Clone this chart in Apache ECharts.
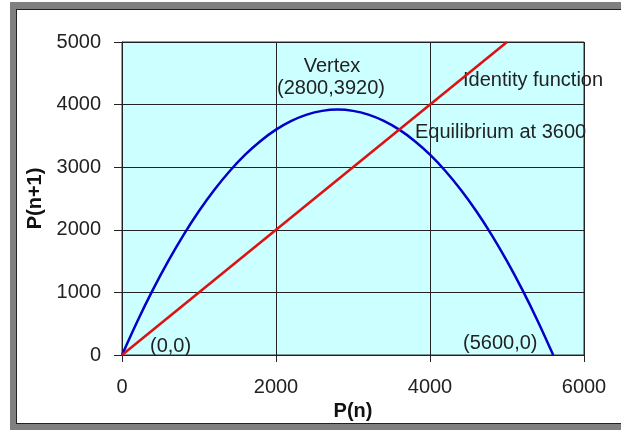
<!DOCTYPE html>
<html><head><meta charset="utf-8">
<script src="https://cdn.jsdelivr.net/npm/echarts@6/dist/echarts.min.js"></script>
<style>html,body{margin:0;padding:0;background:#fff}#c{width:621px;height:430px}</style>
</head><body><div id="c"></div>
<script>
// P(n) values and P(n+1) values
const pn = [0,200,400,600,800,1000,1200,1400,1600,1800,2000,2200,2400,2600,2800,3000,3200,3400,3600,3800,4000,4200,4400,4600,4800,5000,5200,5400,5600];
const pn1 = [0,540,1040,1500,1920,2300,2640,2940,3200,3420,3600,3740,3840,3900,3920,3900,3840,3740,3600,3420,3200,2940,2640,2300,1920,1500,1040,540,0];
// identity function endpoints
const idX = [0,5000];
const idY = [0,5000];
const xTicks = [0,2000,4000,6000];
const yTicks = [0,1000,2000,3000,4000,5000];

const font = '"Liberation Sans", Arial, sans-serif';
const chart = echarts.init(document.getElementById('c'), null, {renderer:'canvas'});
chart.setOption({
  animation:false,
  backgroundColor:'#ffffff',
  grid:{left:122,right:37,top:42,bottom:75,show:true,backgroundColor:'#ccffff',borderColor:'#333',borderWidth:1},
  xAxis:{type:'value',min:xTicks[0],max:xTicks[xTicks.length-1],interval:2000,
    name:'P(n)',nameLocation:'middle',nameGap:37,
    nameTextStyle:{fontFamily:font,fontSize:20,fontWeight:'bold',color:'#111'},
    axisLine:{show:true,onZero:false,lineStyle:{color:'#222',width:1}},
    axisTick:{show:true,length:7,lineStyle:{color:'#222'}},
    axisLabel:{margin:22,fontFamily:font,fontSize:20,color:'#222',formatter:v=>String(v)},
    splitLine:{show:true,lineStyle:{color:'#222',width:1}}},
  yAxis:{type:'value',min:yTicks[0],max:yTicks[yTicks.length-1],interval:1000,
    name:'P(n+1)',nameLocation:'middle',nameGap:68,nameRotate:90,
    nameTextStyle:{fontFamily:font,fontSize:20,fontWeight:'bold',color:'#111'},
    axisLine:{show:true,onZero:false,lineStyle:{color:'#222',width:1}},
    axisTick:{show:true,length:8,lineStyle:{color:'#222'}},
    axisLabel:{margin:21,fontFamily:font,fontSize:20,color:'#222',formatter:v=>String(v)},
    splitLine:{show:true,lineStyle:{color:'#222',width:1}}},
  series:[
    {type:'line',data:pn.map((x,i)=>[x,pn1[i]]),smooth:0.3,showSymbol:false,
     lineStyle:{color:'#0000c8',width:2.5},z:3},
    {type:'line',data:idX.map((x,i)=>[x,idY[i]]),showSymbol:false,
     lineStyle:{color:'#dd1111',width:2.5},z:4}
  ],
  graphic:[
    {type:'rect',shape:{x:10,y:2,width:611,height:7},style:{fill:'#808080'},silent:true},
    {type:'rect',shape:{x:10,y:2,width:6,height:428},style:{fill:'#808080'},silent:true},
    {type:'rect',shape:{x:10,y:424,width:611,height:6},style:{fill:'#808080'},silent:true},
    {type:'rect',shape:{x:16,y:9,width:605,height:1},style:{fill:'#222'},silent:true},
    {type:'rect',shape:{x:16,y:9,width:1,height:415},style:{fill:'#222'},silent:true},
    {type:'rect',shape:{x:16,y:423,width:605,height:1},style:{fill:'#222'},silent:true},
    {type:'text',x:332,y:66,style:{text:'Vertex',font:'20px '+font,fill:'#222',textAlign:'center',textVerticalAlign:'middle'}},
    {type:'text',x:331,y:88,style:{text:'(2800,3920)',font:'20px '+font,fill:'#222',textAlign:'center',textVerticalAlign:'middle'}},
    {type:'text',x:463,y:80,style:{text:'Identity function',font:'20px '+font,fill:'#222',textAlign:'left',textVerticalAlign:'middle'}},
    {type:'text',x:415,y:132,style:{text:'Equilibrium at 3600',font:'20px '+font,fill:'#222',textAlign:'left',textVerticalAlign:'middle'}},
    {type:'text',x:150,y:346,style:{text:'(0,0)',font:'20px '+font,fill:'#222',textAlign:'left',textVerticalAlign:'middle'}},
    {type:'text',x:463,y:343,style:{text:'(5600,0)',font:'20px '+font,fill:'#222',textAlign:'left',textVerticalAlign:'middle'}}
  ]
});
</script></body></html>
